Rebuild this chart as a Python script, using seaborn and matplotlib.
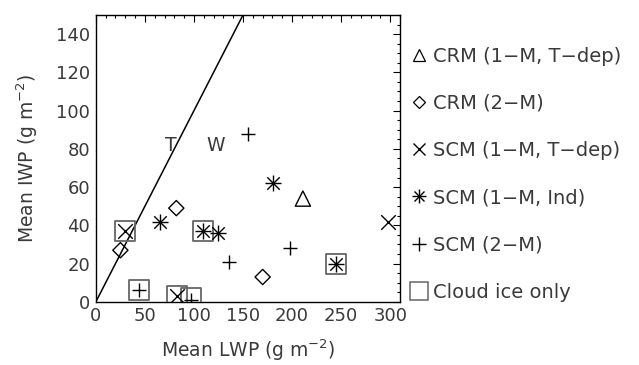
import matplotlib
matplotlib.use('Agg')
import matplotlib.pyplot as plt
import matplotlib.transforms as mtransforms
import seaborn as sns
import numpy as np
import pandas as pd
from matplotlib.lines import Line2D
from matplotlib.ticker import MultipleLocator

# 数据
crm_1m_x = [211]
crm_1m_y = [54]
crm_2m_x = [25, 82, 170]
crm_2m_y = [27, 49, 13]
scm_1m_tdep_x = [30, 83, 298]
scm_1m_tdep_y = [37, 3, 42]
scm_1m_ind_x = [65, 109, 125, 181, 245]
scm_1m_ind_y = [42, 37, 36, 62, 20]
scm_2m_x = [44, 136, 155, 198, 97]
scm_2m_y = [6, 21, 88, 28, 1]
ice_only_x = [30, 44, 83, 97, 109, 245]
ice_only_y = [37, 6, 3, 2, 37, 20]
line_x = [0, 150]
line_y = [0, 150]

labels = ['CRM (1\u2212M, T\u2212dep)', 'CRM (2\u2212M)', 'SCM (1\u2212M, T\u2212dep)',
          'SCM (1\u2212M, Ind)', 'SCM (2\u2212M)', 'Cloud ice only']

sns.set_theme(style='white')
plt.rcParams['font.family'] = ['DejaVu Sans']
plt.rcParams['mathtext.default'] = 'regular'
txt = '#3a3a3a'

fig = plt.figure(figsize=(6.39, 3.65), dpi=100)
ax = fig.add_axes([0.150, 0.173, 0.476, 0.786])

sns.lineplot(x=line_x, y=line_y, color='black', lw=1.1, ax=ax)

open_kw = dict(facecolor='none', edgecolor='black', linewidth=1.0)
line_kw = dict(color='black', linewidth=1.0)
sns.scatterplot(x=ice_only_x, y=ice_only_y, marker='s', s=210, facecolor='none',
                edgecolor='#666666', linewidth=1.3, ax=ax, zorder=3)
sns.scatterplot(x=crm_1m_x, y=crm_1m_y, marker='^', s=120, ax=ax, zorder=4, **open_kw)
sns.scatterplot(x=crm_2m_x, y=crm_2m_y, marker='D', s=60, ax=ax, zorder=4, **open_kw)
sns.scatterplot(x=scm_1m_tdep_x, y=scm_1m_tdep_y, marker='x', s=110, ax=ax, zorder=4, **line_kw)
sns.scatterplot(x=scm_1m_ind_x, y=scm_1m_ind_y, marker='x', s=80, ax=ax, zorder=4, **line_kw)
sns.scatterplot(x=scm_1m_ind_x, y=scm_1m_ind_y, marker='+', s=120, ax=ax, zorder=4, **line_kw)
sns.scatterplot(x=scm_2m_x, y=scm_2m_y, marker='+', s=110, ax=ax, zorder=4, **line_kw)

ax.text(76, 82, 'T', fontsize=13.5, color=txt, ha='center', va='center')
ax.text(122, 82, 'W', fontsize=13.5, color=txt, ha='center', va='center')

ax.set_xlim(0, 310)
ax.set_ylim(0, 150)
ax.xaxis.set_major_locator(MultipleLocator(50))
ax.xaxis.set_minor_locator(MultipleLocator(10))
ax.yaxis.set_major_locator(MultipleLocator(20))
ax.yaxis.set_minor_locator(MultipleLocator(5))
ax.tick_params(which='both', direction='in', top=True, right=True, color='black',
               labelsize=13, labelcolor=txt, width=0.8)
ax.tick_params(which='major', length=5, pad=4)
ax.tick_params(which='minor', length=2.5)
for sp in ax.spines.values():
    sp.set_color('black')
    sp.set_linewidth(1.0)

# y轴 "0" 标签稍微上移
fig.canvas.draw()
ylab0 = ax.get_yticklabels()[0]
ylab0.set_transform(ylab0.get_transform() + mtransforms.ScaledTranslation(0, 6 / 100, fig.dpi_scale_trans))

ax.set_xlabel('Mean LWP (g m$^{-2}$)', fontsize=13.5, color=txt, labelpad=9)
ax.set_ylabel('Mean IWP (g m$^{-2}$)', fontsize=13.5, color=txt, labelpad=12)

# 图例
handles = [
    Line2D([], [], ls='', marker='^', ms=9, mfc='none', mec='black', mew=0.9),
    Line2D([], [], ls='', marker='D', ms=6.5, mfc='none', mec='black', mew=0.9),
    Line2D([], [], ls='', marker='x', ms=9, color='black', mew=1.0),
    (Line2D([], [], ls='', marker='x', ms=7.5, color='black', mew=1.0),
     Line2D([], [], ls='', marker='+', ms=10, color='black', mew=1.0)),
    Line2D([], [], ls='', marker='+', ms=10, color='black', mew=1.0),
    Line2D([], [], ls='', marker='s', ms=13.5, mfc='none', mec='#666666', mew=1.1),
]
leg = fig.legend(handles, labels, loc='center left', bbox_to_anchor=(0.642, 0.523),
                 frameon=False, fontsize=14, labelspacing=1.45, handlelength=0.85,
                 handletextpad=0.3, borderaxespad=0, borderpad=0)
for t in leg.get_texts():
    t.set_color(txt)

plt.savefig('out.png', dpi=100)
